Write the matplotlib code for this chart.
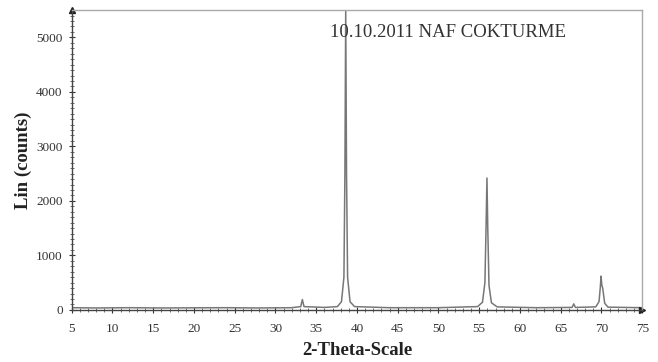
import matplotlib
matplotlib.use("Agg")
import matplotlib.pyplot as plt
from matplotlib.ticker import MultipleLocator

plt.rcParams['font.family'] = ['Liberation Serif', 'DejaVu Serif']

two_theta = [5, 8, 12, 16, 20, 24, 28, 32, 33.1, 33.3, 33.5, 36, 37.6, 38.1, 38.4, 38.52, 38.62,
             38.72, 38.85, 39.15, 39.7, 44, 50, 54.8, 55.4, 55.7, 55.85, 55.95, 56.05, 56.2, 56.5,
             57.2, 62, 66.4, 66.6, 66.8, 69.3, 69.7, 69.85, 69.95, 70.05, 70.15, 70.4, 70.8, 75]
intensity = [40, 35, 40, 35, 38, 40, 35, 40, 60, 190, 60, 45, 60, 150, 600, 2500, 5500,
             2500, 600, 150, 60, 40, 40, 60, 140, 500, 1600, 2420, 1500, 450, 130,
             55, 40, 45, 110, 45, 55, 150, 400, 620, 450, 400, 120, 50, 40]

x_ticks = [5, 10, 15, 20, 25, 30, 35, 40, 45, 50, 55, 60, 65, 70, 75]
y_ticks = [0, 1000, 2000, 3000, 4000, 5000]
title_text = "10.10.2011 NAF COKTURME"

fig = plt.figure(figsize=(6.58, 3.62), dpi=100)
ax = fig.add_axes([0.109, 0.144, 0.867, 0.828])
ax.plot(two_theta, intensity, color="#777777", lw=1.1)

ax.set_xlim(5, 75)
ax.set_ylim(0, 5500)
ax.set_xticks(x_ticks)
ax.set_yticks(y_ticks)
ax.xaxis.set_minor_locator(MultipleLocator(1))
ax.yaxis.set_minor_locator(MultipleLocator(100))
ax.tick_params(axis='both', which='major', direction='inout', length=5, width=0.8,
               labelsize=9.5, colors="#333333", labelcolor="#333333", pad=4)
ax.tick_params(axis='x', which='major', pad=7)
ax.tick_params(axis='both', which='minor', direction='inout', length=3, width=0.6, color="#555555")

for s in ['left', 'bottom']:
    ax.spines[s].set_color("#444444")
    ax.spines[s].set_linewidth(1.0)
for s in ['top', 'right']:
    ax.spines[s].set_color("#aaaaaa")
    ax.spines[s].set_linewidth(1.0)

# arrow heads at the ends of the axes
ax.plot([1], [0], marker='>', color="#222222", markersize=5, transform=ax.transAxes, clip_on=False)
ax.plot([0], [1], marker='^', color="#222222", markersize=5, transform=ax.transAxes, clip_on=False)

ax.set_xlabel("2-Theta-Scale", fontsize=13.5, fontweight='bold', labelpad=5, color="#222222")
ax.set_ylabel("Lin (counts)", fontsize=13.5, fontweight='bold', labelpad=3, color="#222222")
ax.text(0.453, 0.925, title_text, transform=ax.transAxes, fontsize=13.5, color="#333333",
        ha='left', va='center')

fig.savefig("out.png", dpi=100, facecolor="white")
